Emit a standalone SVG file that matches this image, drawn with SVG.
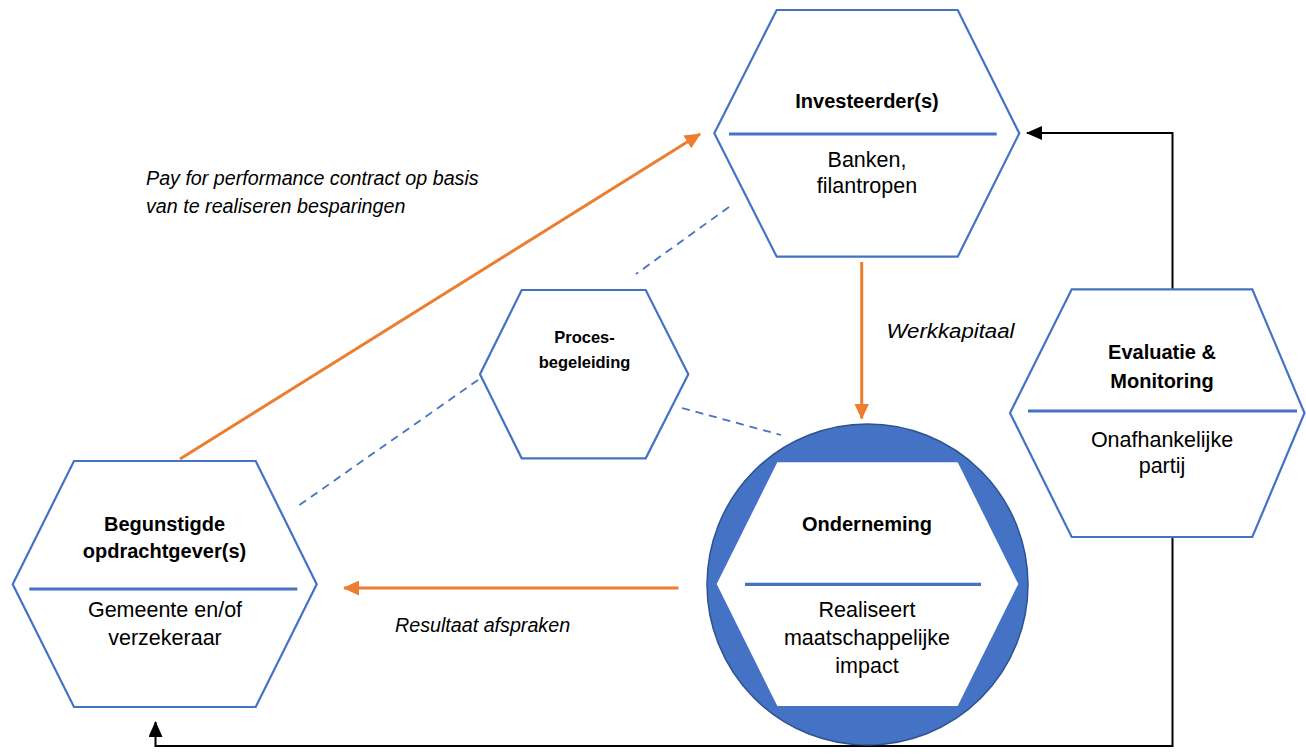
<svg xmlns="http://www.w3.org/2000/svg" width="1306" height="756" viewBox="0 0 1306 756">
<style>
.hex{fill:#fff;stroke:#4472C4;stroke-width:2.2;stroke-linejoin:miter}
.div{stroke:#4472C4;stroke-width:3.2}
.t{font-family:"Liberation Sans",Arial,sans-serif;fill:#000;text-anchor:middle}
.b{font-weight:bold;font-size:20px}
.r{font-size:21.5px}
.i{font-family:"Liberation Sans",Arial,sans-serif;font-style:italic;font-size:19.7px;fill:#000}
.or{stroke:#ED7D31;stroke-width:3;fill:none}
.bk{stroke:#000;stroke-width:2;fill:none}
.ds{stroke:#4472C4;stroke-width:1.8;stroke-dasharray:8 6;fill:none}
</style>
<defs>
<marker id="ao" viewBox="0 0 16 15" refX="15" refY="7.5" markerWidth="16" markerHeight="15" markerUnits="userSpaceOnUse" orient="auto">
<path d="M0,0 L16,7.5 L0,15 Z" fill="#ED7D31"/>
</marker>
<marker id="ab" viewBox="0 0 16 14" refX="15" refY="7" markerWidth="16" markerHeight="14" markerUnits="userSpaceOnUse" orient="auto">
<path d="M0,0 L16,7 L0,14 Z" fill="#000"/>
</marker>
</defs>
<g id="connectors">
<line class="ds" x1="729" y1="207" x2="636" y2="274"/>
<line class="ds" x1="478" y1="380" x2="298" y2="506"/>
<line class="ds" x1="682" y1="408" x2="781" y2="435"/>
<line class="or" x1="180" y1="459" x2="700" y2="134" marker-end="url(#ao)"/>
<line class="or" x1="861.7" y1="262" x2="861.7" y2="418.5" marker-end="url(#ao)"/>
<line class="or" x1="678.5" y1="588" x2="344" y2="588" marker-end="url(#ao)"/>
<polyline class="bk" points="1172.5,289 1172.5,133 1027,133" marker-end="url(#ab)"/>
<polyline class="bk" points="1172.5,537 1172.5,746 155.5,746 155.5,722" marker-end="url(#ab)"/>
<text class="i" x="146" y="185">Pay for performance contract op basis</text>
<text class="i" x="146" y="213">van te realiseren besparingen</text>
<text class="i" x="886.5" y="338" textLength="128" lengthAdjust="spacingAndGlyphs">Werkkapitaal</text>
<text class="i" x="395" y="632">Resultaat afspraken</text>
</g>
<g id="investeerder">
<polygon class="hex" points="776.7,10 957.7,10 1019.3,133.3 957.7,256.7 776.7,256.7 714.3,133.3"/>
<line class="div" x1="729" y1="134" x2="996.7" y2="134"/>
<text class="t b" x="867" y="108">Investeerder(s)</text>
<text class="t r" x="867" y="166.5">Banken,</text>
<text class="t r" x="867" y="193">filantropen</text>
</g>
<g id="procesbegeleiding">
<polygon class="hex" points="521.7,290 645.7,290 688.3,374.3 645.7,458.3 521.7,458.3 480,374.3"/>
<text class="t" x="584.5" y="343.3" style="font-weight:bold;font-size:16.5px">Proces-</text>
<text class="t" x="584.5" y="367.7" style="font-weight:bold;font-size:16.5px">begeleiding</text>
</g>
<g id="begunstigde">
<polygon class="hex" points="74,461 255.7,461 316.7,584.3 255.7,707 74,707 12.7,584.3"/>
<line class="div" x1="29.3" y1="589" x2="297.3" y2="589"/>
<text class="t b" x="164.5" y="531">Begunstigde</text>
<text class="t b" x="164.5" y="558">opdrachtgever(s)</text>
<text class="t r" x="165" y="616.7">Gemeente en/of</text>
<text class="t r" x="165" y="645">verzekeraar</text>
</g>
<g id="onderneming">
<circle cx="867.5" cy="584.5" r="160.5" fill="#4472C4" stroke="#2F528F" stroke-width="1.5"/>
<polygon points="777.3,462.3 957.7,462.3 1018.3,584 957.7,706 777.3,706 716.7,584" fill="#fff"/>
<line class="div" x1="745" y1="584.3" x2="981" y2="584.3"/>
<text class="t b" x="867" y="531">Onderneming</text>
<text class="t r" x="867" y="616.7">Realiseert</text>
<text class="t r" x="867" y="645">maatschappelijke</text>
<text class="t r" x="867" y="673">impact</text>
</g>
<g id="evaluatie">
<polygon class="hex" points="1071.7,289.3 1252.3,289.3 1304.5,413 1252.3,537 1071.7,537 1010,413"/>
<line class="div" x1="1028" y1="411" x2="1297" y2="411"/>
<text class="t b" x="1162" y="359">Evaluatie &amp;</text>
<text class="t b" x="1162" y="388.3">Monitoring</text>
<text class="t r" x="1162" y="446.7">Onafhankelijke</text>
<text class="t r" x="1162" y="473">partij</text>
</g>
</svg>
